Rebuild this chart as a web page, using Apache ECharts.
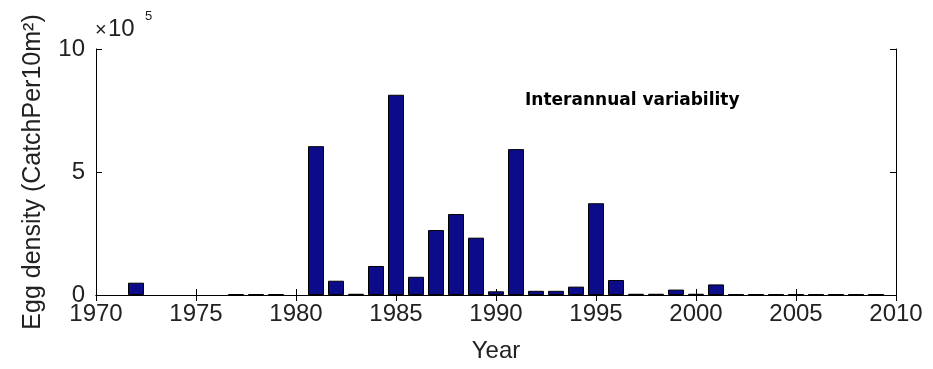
<!DOCTYPE html>
<html><head><meta charset="utf-8">
<script src="https://cdn.jsdelivr.net/npm/echarts@6/dist/echarts.min.js"></script>
<style>html,body{margin:0;padding:0;background:#fff}#c{width:933px;height:369px}</style>
</head><body><div id="c"></div>
<script>
const years = [1972,1977,1978,1979,1981,1982,1983,1984,1985,1986,1987,1988,1989,1990,1991,1992,1993,1994,1995,1996,1997,1998,1999,2000,2001,2002,2003,2004,2005,2006,2007,2008,2009];
const values = [0.5,0.04,0.04,0.04,6.05,0.58,0.05,1.18,8.14,0.74,2.64,3.29,2.33,0.15,5.93,0.17,0.17,0.34,3.73,0.61,0.05,0.05,0.22,0.05,0.43,0.03,0.03,0.03,0.03,0.03,0.03,0.03,0.03];
const xTicks = [1970,1975,1980,1985,1990,1995,2000,2005,2010];
const yTicks = [0,5,10];
const font = '"Liberation Sans", Arial, sans-serif';
const txt = '#222';
const chart = echarts.init(document.getElementById('c'));
const axisLine = {show:true, lineStyle:{color:'#000', width:1}};
const tick = {show:true, inside:true, length:6, lineStyle:{color:'#000'}};
chart.setOption({
  backgroundColor:'#fff',
  animation:false,
  grid:{left:96,right:37,top:49,bottom:74},
  xAxis:[{
    type:'value', min:xTicks[0], max:xTicks[xTicks.length-1], interval:5,
    axisLine:axisLine, axisTick:tick,
    splitLine:{show:false},
    axisLabel:{color:txt, fontFamily:font, fontSize:24, margin:7, formatter:v=>String(v)},
    name:'Year', nameLocation:'middle', nameGap:44,
    nameTextStyle:{color:txt, fontFamily:font, fontSize:24}
  },{
    type:'value', position:'top', min:xTicks[0], max:xTicks[xTicks.length-1], interval:5,
    axisLine:axisLine, axisTick:tick,
    axisLabel:{show:false}, splitLine:{show:false}
  }],
  yAxis:[{
    type:'value', min:yTicks[0], max:yTicks[yTicks.length-1], interval:5,
    axisLine:axisLine, axisTick:tick,
    splitLine:{show:false},
    axisLabel:{color:txt, fontFamily:font, fontSize:24, margin:11},
    name:'Egg density (CatchPer10m²)', nameLocation:'middle', nameGap:50,
    nameTextStyle:{color:txt, fontFamily:font, fontSize:25}
  },{
    type:'value', position:'right', min:yTicks[0], max:yTicks[yTicks.length-1], interval:5,
    axisLine:axisLine, axisTick:tick,
    axisLabel:{show:false}, splitLine:{show:false}
  }],
  graphic:[{
    type:'text', left:95, top:20,
    style:{text:'×', fontFamily:font, fontSize:20, fill:txt}
  },{
    type:'text', left:108, top:17,
    style:{text:'10', fontFamily:font, fontSize:24, fill:txt}
  },{
    type:'text', left:145, top:10,
    style:{text:'5', fontFamily:font, fontSize:13, fill:txt}
  },{
    type:'text', left:525, top:92,
    style:{text:'Interannual variability', fontFamily:'"DejaVu Sans", Verdana, sans-serif', fontWeight:'bold', fontSize:17, fill:'#000'}
  }],
  series:[{
    type:'bar', xAxisIndex:0, yAxisIndex:0,
    data: years.map((y,i)=>[y, values[i]]),
    barWidth:16,
    itemStyle:{color:'#0c0c8a', borderColor:'#000', borderWidth:1}
  }]
});
</script></body></html>
